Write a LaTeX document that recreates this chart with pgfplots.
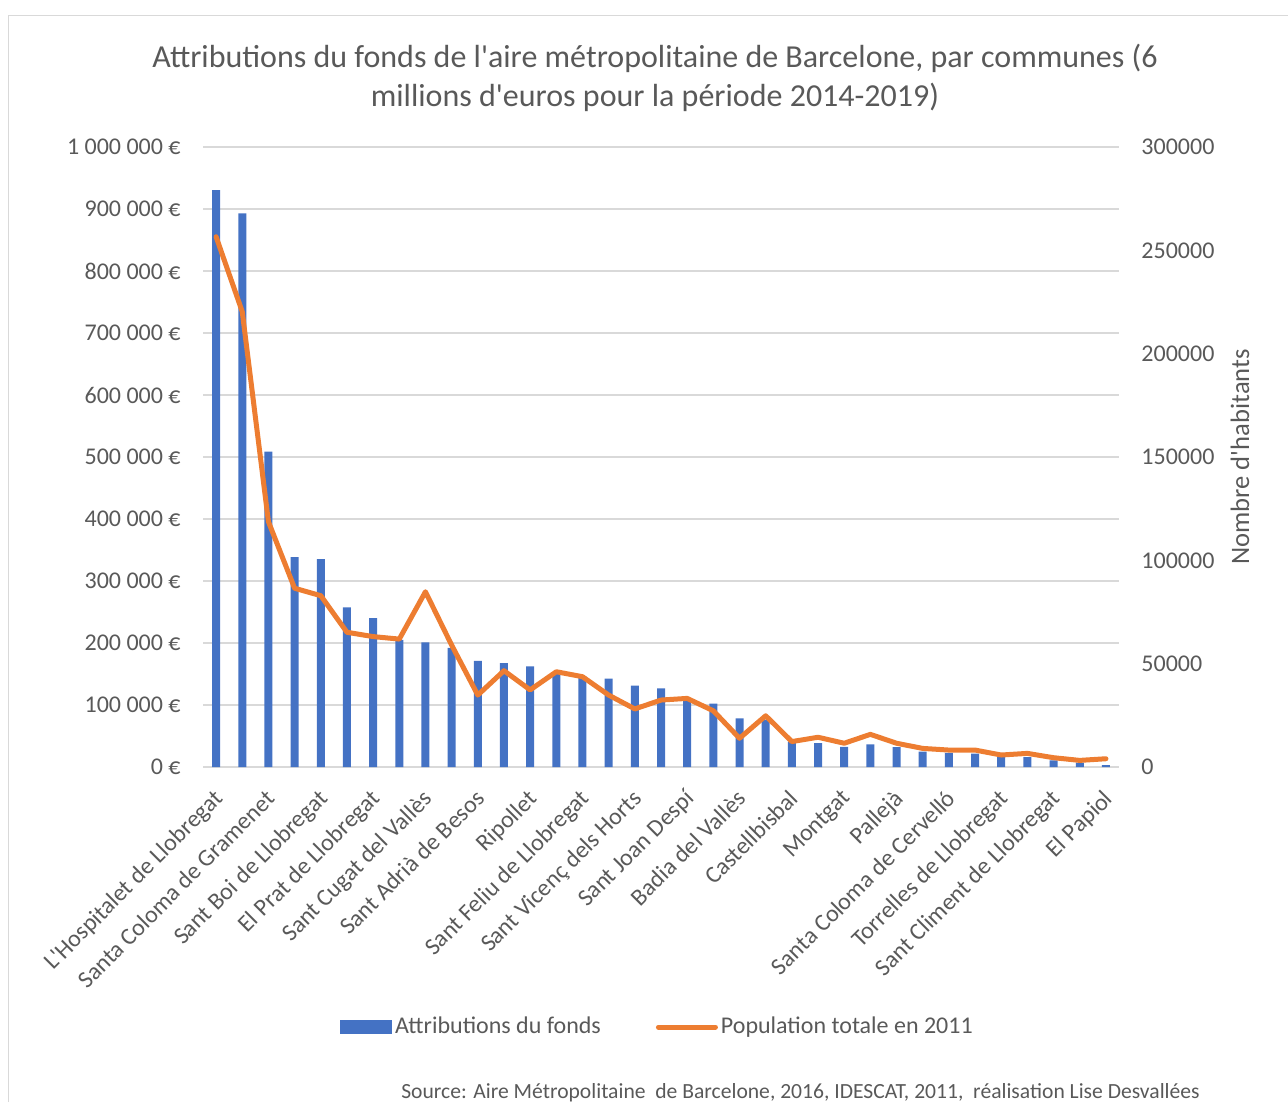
\documentclass[border=0pt]{standalone}
\usepackage{pgfplots}
\pgfplotsset{compat=1.18}
\usepackage{fontspec}
\setmainfont{Carlito}
\definecolor{barblue}{HTML}{4472C4}
\definecolor{lineor}{HTML}{ED7D31}
\definecolor{txt}{HTML}{595959}
\definecolor{gridc}{HTML}{D9D9D9}
\newcommand{\q}{\textquotesingle}
\begin{document}
\begin{tikzpicture}
\useasboundingbox (0,0) rectangle (644pt,-551pt);
\draw[gridc, line width=0.7pt] (4.25pt,-551pt) -- (4.25pt,-7.75pt) -- (644pt,-7.75pt);
\node[text=txt, font=\fontsize{16}{19.5}\selectfont, align=center] at (327.5pt,-38.75pt)
  {Attributions du fonds de l\q aire métropolitaine de Barcelone, par communes (6\\millions d\q euros pour la période 2014-2019)};
\node[text=txt, font=\fontsize{10.8}{12}\selectfont, anchor=base east, inner sep=0pt] at (600pt,-549pt)
  {Source: Aire Métropolitaine\ \ de Barcelone, 2016, IDESCAT, 2011,\ \ réalisation Lise Desvallées};
\begin{axis}[
  at={(101.5pt,-383.5pt)}, anchor=south west,
  scale only axis, width=458pt, height=310pt,
  xmin=-0.5, xmax=34.5, ymin=0, ymax=1000000,
  scaled y ticks=false,
  axis line style={draw=none},
  major tick length=0pt,
  ymajorgrids, grid style={gridc, line width=0.7pt},
  ytick={0,100000,...,1000000},
  yticklabels={0 €,100 000 €,200 000 €,300 000 €,400 000 €,500 000 €,600 000 €,700 000 €,800 000 €,900 000 €,1 000 000 €},
  yticklabel style={anchor=east, inner sep=0pt, xshift=-11pt, text=txt, font=\fontsize{12}{14}\selectfont},
  xtick={0,2,...,34},
  xticklabels={L\q Hospitalet de Llobregat,Santa Coloma de Gramenet,Sant Boi de Llobregat,El Prat de Llobregat,Sant Cugat del Vallès,Sant Adrià de Besos,Ripollet,Sant Feliu de Llobregat,Sant Vicenç dels Horts,Sant Joan Despí,Badia del Vallès,Castellbisbal,Montgat,Pallejà,Santa Coloma de Cervelló,Torrelles de Llobregat,Sant Climent de Llobregat,El Papiol},
  xticklabel style={rotate=45, anchor=north east, inner sep=0pt, yshift=-6pt, xshift=-8.7pt, text=txt, font=\fontsize{12}{14}\selectfont},
  legend columns=2,
  legend style={at={(axis description cs:0.4967,-0.4194)}, anchor=center, draw=none, fill=none,
    text=txt, font=\fontsize{12}{14}\selectfont,
    /tikz/every even column/.append style={column sep=26pt},
    nodes={inner sep=1.5pt}},
  legend cell align=left,
]
\addplot[ybar, bar width=4pt, fill=barblue, draw=none,
  legend image code/.code={\fill[barblue] (0pt,-3.5pt) rectangle (26pt,3.5pt);}]
  coordinates {
(0,930600) (1,893000) (2,508500) (3,338700) (4,335500) (5,257600) (6,240300)
(7,205000) (8,201100) (9,192000) (10,171000) (11,167700) (12,162400) (13,150000)
(14,146000) (15,142500) (16,131200) (17,127000) (18,108000) (19,102200) (20,78500)
(21,76300) (22,40500) (23,38700) (24,32500) (25,36600) (26,32000) (27,24700)
(28,23000) (29,21500) (30,17700) (31,16000) (32,10800) (33,7000) (34,3200)
};
\addlegendentry{Attributions du fonds}
\addlegendimage{legend image code/.code={\draw[lineor, line width=2.5pt, line cap=round] (0pt,0pt) -- (28.5pt,0pt);}}
\addlegendentry{Population totale en 2011}
\end{axis}
\begin{axis}[
  at={(101.5pt,-383.5pt)}, anchor=south west,
  scale only axis, width=458pt, height=310pt,
  xmin=-0.5, xmax=34.5, ymin=0, ymax=300000,
  scaled y ticks=false,
  axis x line=none, axis y line*=right,
  axis line style={draw=none},
  major tick length=0pt,
  ytick={0,50000,100000,150000,200000,250000,300000},
  yticklabels={0,50000,100000,150000,200000,250000,300000},
  yticklabel style={anchor=west, inner sep=0pt, xshift=11pt, text=txt, font=\fontsize{12}{14}\selectfont},
  ylabel={Nombre d\q habitants},
  every axis y label/.style={at={(axis description cs:1.1321,0.5)}, rotate=90, anchor=center,
    text=txt, font=\fontsize{13.3}{15}\selectfont},
]
\addplot[lineor, line width=2.5pt, line join=round, line cap=round, mark=none] coordinates {
(0,256600) (1,220300) (2,118700) (3,86500) (4,82900) (5,65200) (6,63100)
(7,61900) (8,84800) (9,59000) (10,34800) (11,46600) (12,37300) (13,46100)
(14,43700) (15,34800) (16,28100) (17,32400) (18,33200) (19,27200) (20,13900)
(21,24800) (22,12300) (23,14400) (24,11500) (25,15800) (26,11500) (27,9000)
(28,8200) (29,8200) (30,5800) (31,6600) (32,4500) (33,3200) (34,4000)
};
\end{axis}
\end{tikzpicture}
\end{document}
